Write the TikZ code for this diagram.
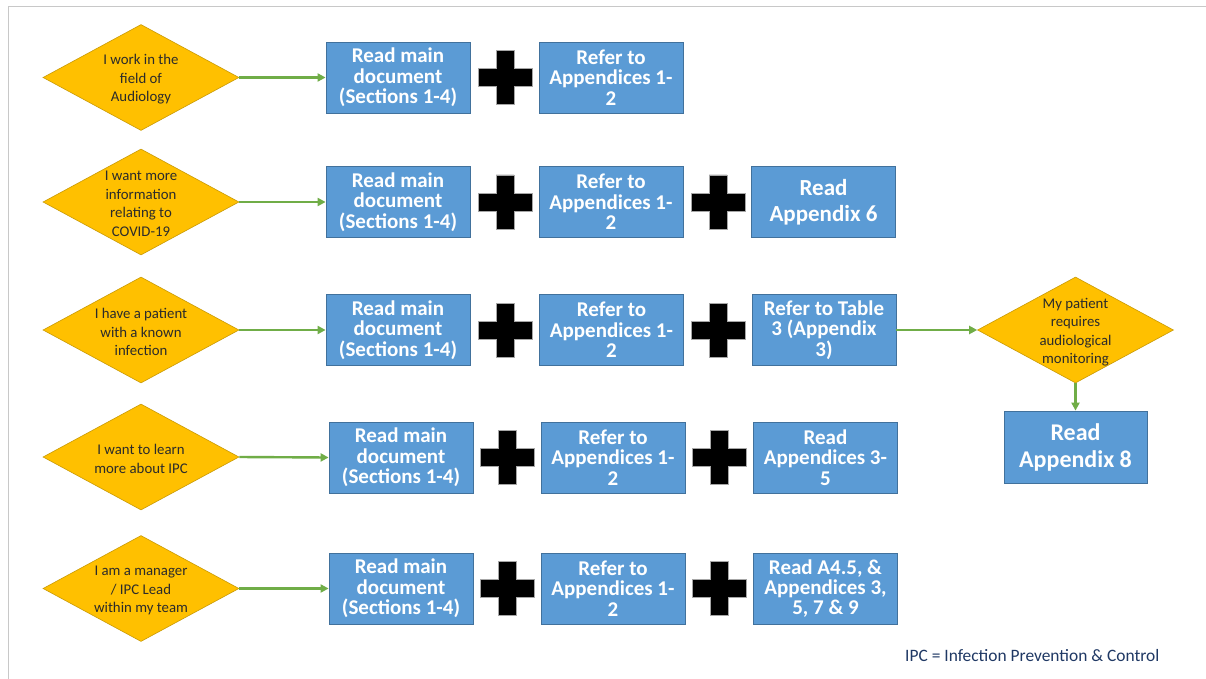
\documentclass[tikz,border=0pt]{standalone}
\usepackage{fontspec}
\setmainfont{Carlito}
\usetikzlibrary{shapes.geometric,arrows.meta}
\definecolor{dfill}{HTML}{FFC000}
\definecolor{ddraw}{HTML}{C99A06}
\definecolor{bfill}{HTML}{5B9BD5}
\definecolor{bdraw}{HTML}{41719C}
\definecolor{agreen}{HTML}{70AD47}
\definecolor{dtxt}{HTML}{2B2B2B}
\definecolor{navy}{HTML}{1F3864}
\definecolor{frame}{HTML}{C8C8C8}
\tikzset{
  dia/.style={diamond, fill=dfill, draw=ddraw, line width=0.6pt, inner sep=0pt,
    minimum width=196pt, minimum height=106pt},
  dtext/.style={text=dtxt, align=center, yshift=-2pt, font=\fontsize{14.8}{18.5}\selectfont},
  bbox/.style={rectangle, fill=bfill, draw=bdraw, line width=0.8pt, inner sep=0pt,
    minimum width=144pt, minimum height=71pt, text=white, align=center,
    font=\bfseries\fontsize{21}{20.3}\selectfont},
  bbig/.style={bbox, font=\bfseries\fontsize{23}{26.5}\selectfont},
  garrow/.style={draw=agreen, line width=2.4pt, -{Triangle[length=8pt,width=8pt]}},
  plusst/.style={fill=black, draw=gray!70, line width=0.6pt},
}
\newcommand{\plusat}[2]{%
  \path[plusst] (#1-9,#2-27) -- (#1+9,#2-27) -- (#1+9,#2-9) -- (#1+27,#2-9)
   -- (#1+27,#2+9) -- (#1+9,#2+9) -- (#1+9,#2+27) -- (#1-9,#2+27)
   -- (#1-9,#2+9) -- (#1-27,#2+9) -- (#1-27,#2-9) -- (#1-9,#2-9) -- cycle;}
\begin{document}
\begin{tikzpicture}[x=1pt,y=-1pt]
\useasboundingbox (0,0) rectangle (1206,679);
\fill[white] (0,0) rectangle (1206,679);
% frame
\draw[frame, line width=1.2pt] (8.5,679) -- (8.5,6.5) -- (1206,6.5);

% row 1
\node[dia, label={[dtext]center:I work in the\\field of\\Audiology}] (d1) at (141,77.5) {};
\node[bbox] (b11) at (398,77.5) {Read main\\document\\(Sections 1-4)};
\node[bbox] (b12) at (611,77.5) {Refer to\\Appendices 1-\\2};
\plusat{505}{77.5}
\draw[garrow] (d1.east) -- (b11.west);

% row 2
\node[dia, label={[dtext]center:I want more\\information\\relating to\\COVID-19}] (d2) at (141,202) {};
\node[bbox] (b21) at (398,202) {Read main\\document\\(Sections 1-4)};
\node[bbox] (b22) at (611,202) {Refer to\\Appendices 1-\\2};
\node[bbig] (b23) at (823.5,202) {Read\\Appendix 6};
\plusat{505}{202}
\plusat{718}{202}
\draw[garrow] (d2.east) -- (b21.west);

% row 3
\node[dia, label={[dtext]center:I have a patient\\with a known\\infection}] (d3) at (141,330) {};
\node[bbox] (b31) at (398,330) {Read main\\document\\(Sections 1-4)};
\node[bbox] (b32) at (611.5,330) {Refer to\\Appendices 1-\\2};
\node[bbox] (b33) at (824,330) {Refer to Table\\3 (Appendix\\3)};
\plusat{505}{330}
\plusat{718}{330}
\draw[garrow] (d3.east) -- (b31.west);
\node[dia, label={[dtext]center:My patient\\requires\\audiological\\monitoring}] (d6) at (1075.5,330) {};
\node[bbig, minimum height=72pt, minimum width=143pt, font=\bfseries\fontsize{24}{27}\selectfont] (b6) at (1075.5,447) {Read\\Appendix 8};
\draw[garrow] (b33.east) -- (d6.west);
\draw[garrow] (d6.south) -- (b6.north);

% row 4
\node[dia, label={[dtext]center:I want to learn\\more about IPC}] (d4) at (141,457) {};
\node[bbox] (b41) at (401,457.5) {Read main\\document\\(Sections 1-4)};
\node[bbox] (b42) at (613,457.5) {Refer to\\Appendices 1-\\2};
\node[bbox] (b43) at (825.5,457.5) {Read\\Appendices 3-\\5};
\plusat{507}{457.5}
\plusat{719}{457.5}
\draw[garrow] (d4.east) -- (b41.west);

% row 5
\node[dia, label={[dtext]center:I am a manager\\/ IPC Lead\\within my team}] (d5) at (141,588.5) {};
\node[bbox] (b51) at (401,588.5) {Read main\\document\\(Sections 1-4)};
\node[bbox] (b52) at (613,588.5) {Refer to\\Appendices 1-\\2};
\node[bbox] (b53) at (825.5,588.5) {Read A4.5, \&\\Appendices 3,\\5, 7 \& 9};
\plusat{507}{588.5}
\plusat{719}{588.5}
\draw[garrow] (d5.east) -- (b51.west);

% footnote
\node[anchor=west, text=navy, font=\fontsize{17.4}{20}\selectfont, inner sep=0pt] (note) at (905,656) {IPC = Infection Prevention \& Control};
\end{tikzpicture}
\end{document}
